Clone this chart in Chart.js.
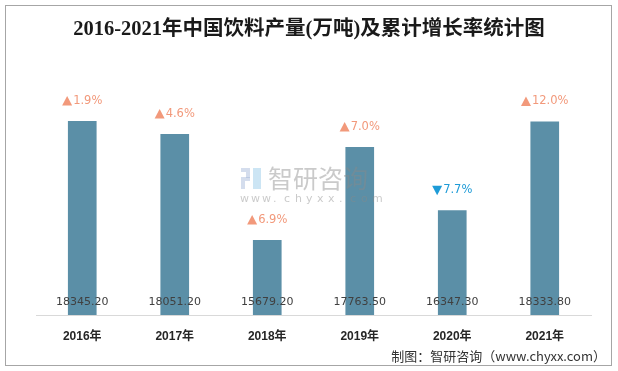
<!DOCTYPE html>
<html><head><meta charset="utf-8">
<script src="https://cdn.jsdelivr.net/npm/chart.js@4/dist/chart.umd.min.js"></script>
<style>html,body{margin:0;padding:0;background:#fff}#wrap{width:618px;height:371px;position:relative}</style>
</head><body><div id="wrap"><canvas id="c" width="618" height="371"></canvas></div>
<script>
const categories = ["2016年","2017年","2018年","2019年","2020年","2021年"];
const production = [18345.20, 18051.20, 15679.20, 17763.50, 16347.30, 18333.80];
const growth = [1.9, 4.6, 6.9, 7.0, -7.7, 12.0];
const titleText = "2016-2021年中国饮料产量(万吨)及累计增长率统计图";
const sourceText = "制图：智研咨询（www.chyxx.com）";

const CJK = '"Noto Sans CJK SC"';
const decor = {
  id: 'decor',
  beforeDraw(chart) {
    const ctx = chart.ctx;
    ctx.save();
    ctx.fillStyle = '#fff';
    ctx.fillRect(0, 0, chart.width, chart.height);
    ctx.strokeStyle = '#a6a6a6';
    ctx.lineWidth = 1;
    ctx.strokeRect(5.5, 5.5, 606, 360);
    ctx.fillStyle = '#1a1a1a';
    ctx.font = 'bold 20.5px "Liberation Serif", ' + CJK;
    ctx.textAlign = 'center';
    ctx.textBaseline = 'middle';
    ctx.fillText(titleText, 309, 30);
    ctx.font = '13px ' + CJK;
    ctx.fillStyle = '#333';
    ctx.textAlign = 'right';
    ctx.fillText(sourceText, 606, 356);
    ctx.restore();
  },
  afterDatasetsDraw(chart) {
    const ctx = chart.ctx;
    const meta = chart.getDatasetMeta(0);
    ctx.save();
    ctx.textBaseline = 'middle';
    meta.data.forEach((bar, i) => {
      ctx.textAlign = 'center';
      ctx.font = '11px "DejaVu Sans", ' + CJK;
      ctx.fillStyle = '#404040';
      ctx.fillText(production[i].toFixed(2), bar.x, 302);
      const g = growth[i];
      const up = g >= 0;
      const col = up ? '#F2997B' : '#1E9BD7';
      ctx.fillStyle = col;
      const txt = Math.abs(g).toFixed(1) + '%';
      ctx.font = '11.5px "DejaVu Sans"';
      const tw = ctx.measureText(txt).width;
      const total = 10 + 1 + tw;
      const x0 = bar.x - total / 2;
      const cy = bar.y - 20;
      ctx.beginPath();
      if (up) {
        ctx.moveTo(x0, cy + 4.5); ctx.lineTo(x0 + 10, cy + 4.5); ctx.lineTo(x0 + 5, cy - 5);
      } else {
        ctx.moveTo(x0, cy - 4.5); ctx.lineTo(x0 + 10, cy - 4.5); ctx.lineTo(x0 + 5, cy + 5);
      }
      ctx.closePath();
      ctx.fill();
      ctx.textAlign = 'left';
      ctx.fillText(txt, x0 + 11, cy);
    });
    // watermark
    ctx.globalAlpha = 0.45;
    ctx.fillStyle = '#9fb3d6';
    ctx.fillRect(241, 168, 9, 4);
    ctx.fillRect(246, 172, 4, 6);
    ctx.fillRect(241, 177, 9, 4);
    ctx.fillRect(241, 181, 4, 8);
    ctx.fillStyle = '#8ec5e6';
    ctx.fillRect(253, 168, 8, 21);
    ctx.fillStyle = '#8a8a8a';
    ctx.textAlign = 'left';
    ctx.font = '25px ' + CJK;
    ctx.fillText('智研咨询', 268, 178);
    ctx.font = '11px "DejaVu Sans"';
    const w = 'www.chyxx.com';
    for (let k = 0; k < w.length; k++) ctx.fillText(w[k], 240 + k * 11, 199);
    ctx.restore();
  }
};

new Chart(document.getElementById('c'), {
  type: 'bar',
  data: {
    labels: categories,
    datasets: [{
      data: production,
      backgroundColor: '#5B8FA7',
      borderWidth: 0,
      barPercentage: 0.31,
      categoryPercentage: 1.0
    }]
  },
  options: {
    responsive: false,
    animation: false,
    layout: { padding: { top: 47, left: 36, right: 27, bottom: 0 } },
    plugins: { legend: { display: false }, tooltip: { enabled: false }, title: { display: false } },
    scales: {
      x: {
        grid: { display: false, drawTicks: false },
        border: { display: true, color: '#d9d9d9', width: 1 },
        ticks: { padding: 14, color: '#262626', font: { family: '"Liberation Sans", ' + CJK, size: 12, weight: 'bold' } },
        afterFit(scale) { scale.height = 56; }
      },
      y: {
        display: false,
        min: 14000,
        max: 20000
      }
    }
  },
  plugins: [decor]
});
</script></body></html>
